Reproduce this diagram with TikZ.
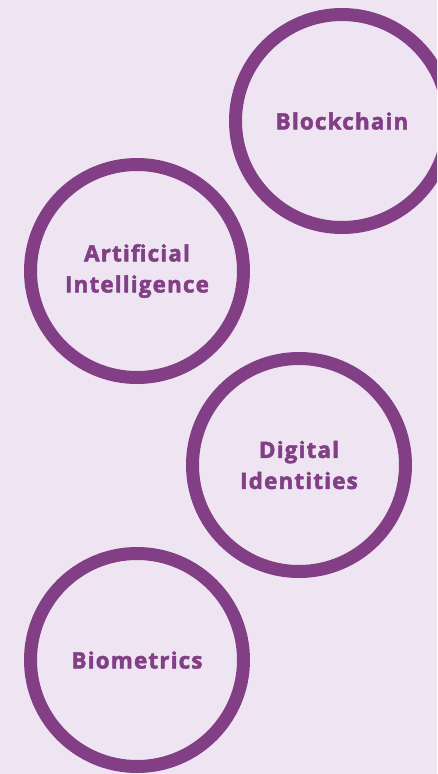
\documentclass[tikz,border=0pt]{standalone}
\usepackage{fontspec}
\setmainfont{Open Sans}
\newfontfamily\topicfont{Open Sans}[BoldFeatures={FakeBold=2.2}, LetterSpace=5]
\usepackage{tikz}
\usetikzlibrary{positioning}

\definecolor{ringpurple}{RGB}{130,63,134}
\definecolor{paleback}{RGB}{239,229,242}

\tikzset{
  topic/.style={circle, draw=ringpurple, line width=13pt, minimum size=213pt,
    inner sep=0pt, align=center, text=ringpurple,
    font=\topicfont\fontsize{22.5pt}{31pt}\bfseries\selectfont}
}

\begin{document}
\begin{tikzpicture}[x=1pt, y=-1pt]
    % 背景
    \fill[paleback] (0,0) rectangle (437,774);
    \useasboundingbox (0,0) rectangle (437,774);
    \clip (0,0) rectangle (437,774);

    % 円の描画
    \node[topic] (chain) at (342,121) {Blockchain};
    \node[topic] (ai) at (137,271) {Artificial\\Intelligence};
    \node[topic] (ident) at (299,465) {Digital\\Identities};
    \node[topic] (bio) at (137,660) {Biometrics};
\end{tikzpicture}
\end{document}
